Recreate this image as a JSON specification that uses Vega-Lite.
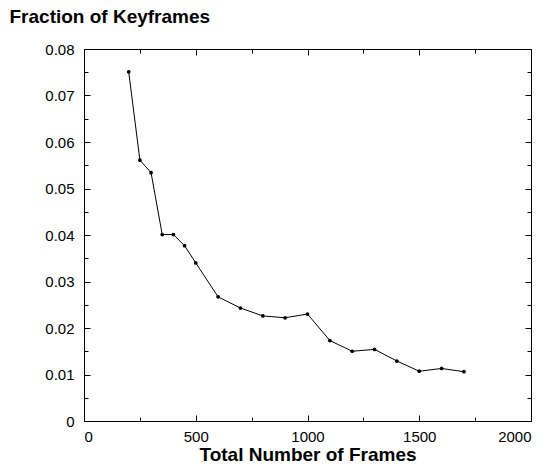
{
  "$schema": "https://vega.github.io/schema/vega-lite/v6.json",
  "width": 447,
  "height": 372,
  "autosize": {"type": "none"},
  "padding": {"left": 84, "top": 49, "right": 18, "bottom": 45},
  "background": "white",
  "config": {
    "view": {"stroke": "black", "strokeWidth": 1},
    "font": "Liberation Sans",
    "axis": {"labelFont": "Liberation Sans", "titleFont": "Liberation Sans", "labelColor": "black", "titleColor": "black", "tickColor": "black", "domain": false, "grid": false}
  },
  "data": {"values": [
    {"frames": 200, "fraction": 0.0751},
    {"frames": 250, "fraction": 0.0561},
    {"frames": 300, "fraction": 0.0534},
    {"frames": 350, "fraction": 0.0401},
    {"frames": 400, "fraction": 0.0401},
    {"frames": 450, "fraction": 0.0377},
    {"frames": 500, "fraction": 0.0340},
    {"frames": 600, "fraction": 0.0267},
    {"frames": 700, "fraction": 0.0243},
    {"frames": 800, "fraction": 0.0226},
    {"frames": 900, "fraction": 0.0222},
    {"frames": 1000, "fraction": 0.0230},
    {"frames": 1100, "fraction": 0.0173},
    {"frames": 1200, "fraction": 0.0150},
    {"frames": 1300, "fraction": 0.0154},
    {"frames": 1400, "fraction": 0.0129},
    {"frames": 1500, "fraction": 0.0107},
    {"frames": 1600, "fraction": 0.0113},
    {"frames": 1700, "fraction": 0.0106}
  ]},
  "resolve": {"axis": {"x": "independent", "y": "independent"}},
  "layer": [
    {
      "mark": {"type": "line", "color": "black", "strokeWidth": 1},
      "encoding": {
        "x": {"field": "frames", "type": "quantitative", "scale": {"domain": [0, 2000], "nice": false},
          "axis": {"orient": "bottom", "title": "Total Number of Frames", "titleFontSize": 19, "titleFontWeight": "bold",
            "titleY": 39.5, "titleBaseline": "alphabetic",
            "values": [0,250,500,750,1000,1250,1500,1750,2000],
            "labelExpr": "datum.value % 500 === 0 ? format(datum.value, 'd') : ''",
            "labelFontSize": 15, "labelPadding": 14,
            "tickSize": {"condition": {"test": "datum.value % 500 !== 0", "value": -4}, "value": -6}}},
        "y": {"field": "fraction", "type": "quantitative", "scale": {"domain": [0, 0.08], "nice": false},
          "axis": {"orient": "left", "title": "Fraction of Keyframes", "titleAngle": 0, "titleAlign": "left", "titleBaseline": "alphabetic",
            "titleX": -75, "titleY": -27, "titleFontSize": 19, "titleFontWeight": "bold",
            "values": [0,0.005,0.01,0.015,0.02,0.025,0.03,0.035,0.04,0.045,0.05,0.055,0.06,0.065,0.07,0.075,0.08],
            "labelExpr": "round(datum.value*1000) % 10 === 0 ? (datum.value === 0 ? '0' : format(datum.value, '.2f')) : ''",
            "labelFontSize": 15, "labelPadding": 16,
            "tickSize": {"condition": {"test": "round(datum.value*1000) % 10 !== 0", "value": -4}, "value": -6}}}
      }
    },
    {
      "mark": {"type": "point", "filled": true, "color": "black", "size": 14, "opacity": 1},
      "encoding": {
        "x": {"field": "frames", "type": "quantitative",
          "axis": {"orient": "top", "title": null, "labels": false,
            "values": [0,250,500,750,1000,1250,1500,1750,2000],
            "tickSize": {"condition": {"test": "datum.value % 500 !== 0", "value": -4}, "value": -6}}},
        "y": {"field": "fraction", "type": "quantitative",
          "axis": {"orient": "right", "title": null, "labels": false,
            "values": [0,0.005,0.01,0.015,0.02,0.025,0.03,0.035,0.04,0.045,0.05,0.055,0.06,0.065,0.07,0.075,0.08],
            "tickSize": {"condition": {"test": "round(datum.value*1000) % 10 !== 0", "value": -4}, "value": -6}}}
      }
    }
  ]
}
